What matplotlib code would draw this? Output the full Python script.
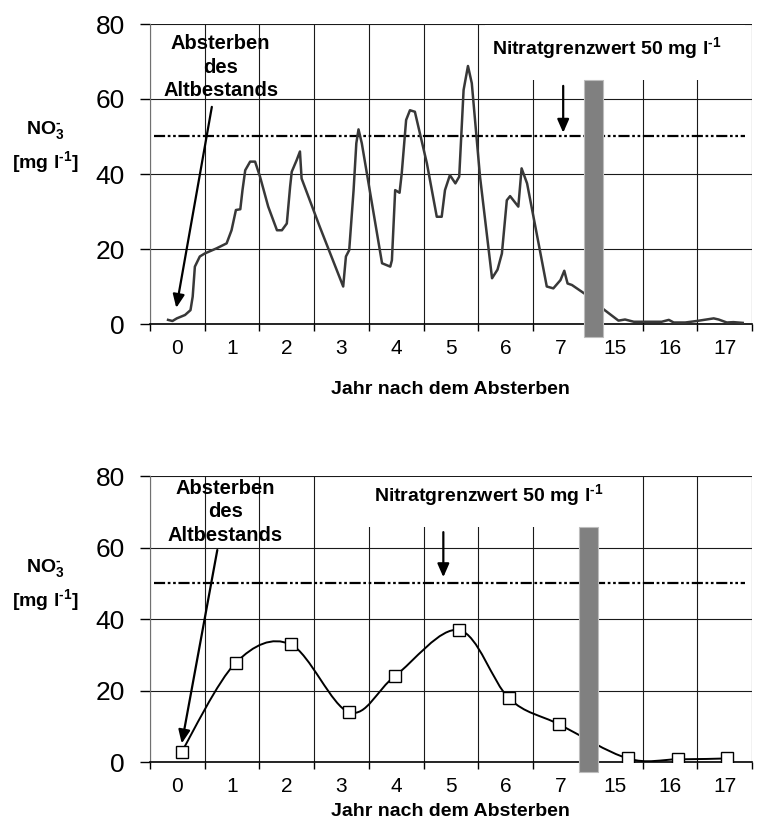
import numpy as np
import matplotlib
matplotlib.use('Agg')
import matplotlib.pyplot as plt
from matplotlib.path import Path
from matplotlib.patches import PathPatch, Rectangle

matplotlib.rcParams['font.family'] = 'Liberation Sans'
matplotlib.rcParams['mathtext.fontset'] = 'custom'
matplotlib.rcParams['mathtext.rm'] = 'Liberation Sans:bold'
matplotlib.rcParams['mathtext.bf'] = 'Liberation Sans:bold'
matplotlib.rcParams['mathtext.default'] = 'bf'

W, H = 757, 830

year_labels = ['0', '1', '2', '3', '4', '5', '6', '7', '15', '16', '17']
limit = 50

# oben: Messreihe, x = Position auf der Kategorienachse
top_x = [-0.17, -0.09, -0.01, 0.14, 0.24, 0.28, 0.32, 0.41, 0.5, 0.72, 0.9, 0.99,
         1.07, 1.15, 1.19, 1.24, 1.33, 1.42, 1.51, 1.66, 1.82, 1.91, 2.0, 2.06,
         2.09, 2.18, 2.24, 2.27, 2.6, 3.03, 3.08, 3.14, 3.22, 3.27, 3.31, 3.37,
         3.74, 3.89, 3.92, 3.98, 4.06, 4.1, 4.18, 4.25, 4.34, 4.56, 4.74, 4.83,
         4.89, 4.98, 5.08, 5.15, 5.23, 5.31, 5.38, 5.53, 5.75, 5.85, 5.93, 6.02,
         6.08, 6.23, 6.29, 6.39, 6.6, 6.75, 6.87, 7.0, 7.07, 7.13, 7.21, 7.45,
         7.79, 8.06, 8.18, 8.34, 8.85, 8.98, 9.07, 9.28, 9.49, 9.8, 9.89, 10.04,
         10.16, 10.33]
top_y = [1.1, 0.8, 1.5, 2.4, 3.7, 7.3, 15.3, 18.0, 18.8, 20.2, 21.5, 25.0,
         30.4, 30.6, 35.7, 41.0, 43.3, 43.3, 39.3, 31.3, 25.0, 25.0, 26.8, 36.6,
         40.6, 43.7, 46.0, 38.8, 26.0, 10.0, 18.0, 19.7, 35.7, 48.2, 51.9, 48.2,
         16.2, 15.3, 17.0, 35.7, 35.0, 40.2, 54.4, 57.0, 56.6, 42.8, 28.6, 28.6,
         35.7, 39.7, 37.5, 39.3, 62.4, 68.8, 64.2, 39.3, 12.2, 14.5, 18.8, 33.0,
         34.1, 31.3, 41.5, 37.5, 21.5, 10.0, 9.5, 11.7, 14.2, 10.8, 10.4, 8.0,
         3.9, 0.9, 1.2, 0.6, 0.6, 1.1, 0.4, 0.4, 0.8, 1.5, 1.2, 0.4,
         0.5, 0.3]

# unten: Jahreswerte
bottom_x = [0.08, 1.07, 2.07, 3.14, 3.98, 5.15, 6.06, 6.98, 8.23, 9.15, 10.05]
bottom_y = [2.9, 27.8, 32.9, 13.9, 24.1, 36.9, 17.8, 10.5, 1.0, 0.75, 1.0]


def px(x, y):
    return x / W, 1 - y / H


def smooth_path(xs, ys):
    pts = np.column_stack([xs, ys])
    n = len(pts)
    verts = [pts[0]]
    codes = [Path.MOVETO]
    for i in range(n - 1):
        p0 = pts[max(i - 1, 0)]
        p1 = pts[i]
        p2 = pts[i + 1]
        p3 = pts[min(i + 2, n - 1)]
        verts += [p1 + (p2 - p0) / 6, p2 - (p3 - p1) / 6, p2]
        codes += [Path.CURVE4] * 3
    return Path(verts, codes)


def setup(ax):
    ax.set_xlim(-0.5, 10.5)
    ax.set_ylim(0, 80)
    ax.set_xticks(np.arange(-0.5, 11, 1))
    ax.set_xticklabels([])
    ax.set_xticks(np.arange(11), minor=True)
    ax.set_xticklabels(year_labels, minor=True)
    ax.set_yticks([0, 20, 40, 60, 80])
    ax.tick_params(axis='x', which='major', length=5, width=1, direction='out')
    ax.tick_params(axis='x', which='minor', length=0, labelsize=15, pad=11)
    ax.tick_params(axis='y', length=7, width=1, labelsize=19, pad=11)
    ax.grid(True, which='major', color='#1a1a1a', lw=0.8)
    ax.set_axisbelow(True)
    for s in ['top', 'right']:
        ax.spines[s].set_visible(False)
    ax.spines['left'].set_color('#707070')
    ax.spines['bottom'].set_linewidth(1.2)
    ax.hlines(limit, -0.43, 10.37, colors='black', lw=1.6,
              linestyles=(0, (5, 1.2, 1.2, 1.2, 1.2, 1.2)), zorder=2)


def arrow(ax, start, tip):
    ax.annotate('', xy=tip, xytext=start,
                arrowprops=dict(arrowstyle='-|>,head_length=0.8,head_width=0.35',
                                lw=1.6, color='black', shrinkA=0, shrinkB=0),
                zorder=6)


sup = r'$^{\text{-1}}$'

fig = plt.figure(figsize=(W / 100, H / 100), dpi=100)

ax1 = fig.add_axes([150 / W, 1 - 324 / H, 602 / W, 300 / H])
ax2 = fig.add_axes([150 / W, 1 - 762 / H, 602 / W, 286 / H])
setup(ax1)
setup(ax2)

# oben
ax1.add_patch(Rectangle((5.62, 65.1), 4.75, 14.6, facecolor='white', edgecolor='none', zorder=1))
ax1.plot(top_x, top_y, color='#383838', lw=1.8, zorder=3, solid_joinstyle='round')
ax1.add_patch(Rectangle((7.43, -3.5), 0.35, 68.5, facecolor='#808080', edgecolor='#bdbdbd',
                        lw=0.8, zorder=4, clip_on=False))
ax1.text(0.79, 68.5, 'Absterben\ndes\nAltbestands', ha='center', va='center',
         fontsize=14.5, fontweight='bold', linespacing=1.3, zorder=5)
arrow(ax1, (0.63, 57.9), (-0.02, 4.3))
ax1.text(7.85, 73.6, 'Nitratgrenzwert 50 mg l' + sup, ha='center', va='center',
         fontsize=14, fontweight='bold', zorder=5)
arrow(ax1, (7.05, 63.5), (7.05, 51))

# unten
ax2.add_patch(Rectangle((2.97, 65.7), 5.12, 14.0, facecolor='white', edgecolor='none', zorder=1))
ax2.add_patch(PathPatch(smooth_path(bottom_x, bottom_y), facecolor='none',
                        edgecolor='black', lw=1.4, zorder=3))
ax2.plot(bottom_x, bottom_y, 's', mfc='white', mec='black', mew=1, ms=8, zorder=3.5)
ax2.add_patch(Rectangle((7.33, -2.7), 0.35, 68.5, facecolor='#808080', edgecolor='#bdbdbd',
                        lw=0.8, zorder=4, clip_on=False))
ax2.text(0.88, 70.0, 'Absterben\ndes\nAltbestands', ha='center', va='center',
         fontsize=14.5, fontweight='bold', linespacing=1.3, zorder=5)
arrow(ax2, (0.73, 59.3), (0.08, 5.2))
ax2.text(5.69, 74.7, 'Nitratgrenzwert 50 mg l' + sup, ha='center', va='center',
         fontsize=14, fontweight='bold', zorder=5)
arrow(ax2, (4.86, 64.3), (4.86, 51.7))

# Achsentitel
for y0, y_lab in [(130, 389), (568, 811)]:
    fig.text(*px(45, y0), r'NO$_3^{\text{-}}$', ha='center', va='center', fontsize=14,
             fontweight='bold')
    fig.text(*px(45, y0 + 32), '[mg l' + sup + ']', ha='center', va='center', fontsize=14,
             fontweight='bold')
    fig.text(*px(450, y_lab), 'Jahr nach dem Absterben', ha='center', va='center',
             fontsize=14, fontweight='bold')

fig.savefig('out.png', dpi=100)
